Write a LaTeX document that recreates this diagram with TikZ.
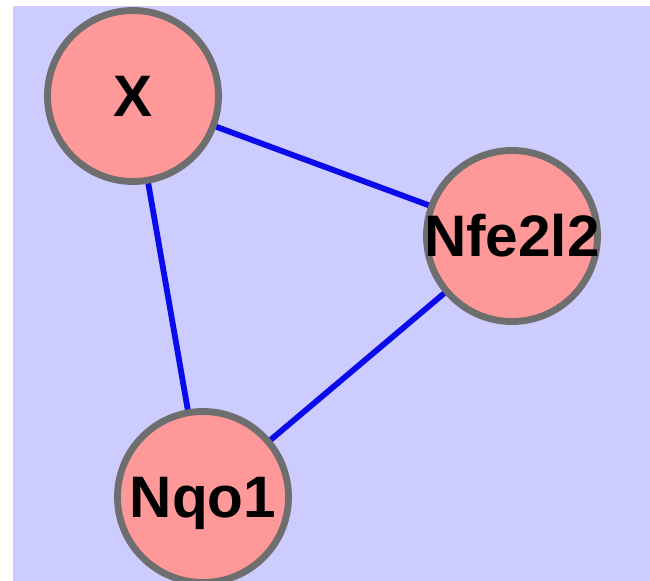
\documentclass[tikz,border=0pt]{standalone}
\usepackage{fontspec}
\setmainfont{Liberation Sans}
\usepackage{tikz}
\usetikzlibrary{positioning,backgrounds}
\definecolor{fondo}{RGB}{204,204,255}
\definecolor{rosa}{RGB}{255,153,153}
\definecolor{borde}{RGB}{110,110,110}
\definecolor{azul}{RGB}{10,10,235}
\tikzset{
  nodo/.style   = {circle, draw=borde, fill=rosa, line width=3.9pt,
                   minimum size=3.42cm, inner sep=0pt, outer sep=0pt,
                   font=\fontsize{33.3}{34}\selectfont\bfseries,
                   text height=23.8pt, text depth=0pt},
  arista/.style = {draw=azul, line width=3.3pt}
}

\begin{document}
\begin{tikzpicture}[x=0.2mm, y=-0.2mm]
    \useasboundingbox (0,0) rectangle (650,581);

    \node[nodo] (x)   at (133,96)  {X};
    \node[nodo] (nfe) at (512,236) {\makebox[0pt]{Nfe2l2}};
    \node[nodo] (nqo) at (203,497) {Nqo1};

    \begin{scope}[on background layer]
      \fill[fondo] (13,6) rectangle (650,581);
      \draw[arista] (x.center) -- (nfe.center);
      \draw[arista] (x.center) -- (nqo.center);
      \draw[arista] (nfe.center) -- (nqo.center);
    \end{scope}
  \end{tikzpicture}
\end{document}
